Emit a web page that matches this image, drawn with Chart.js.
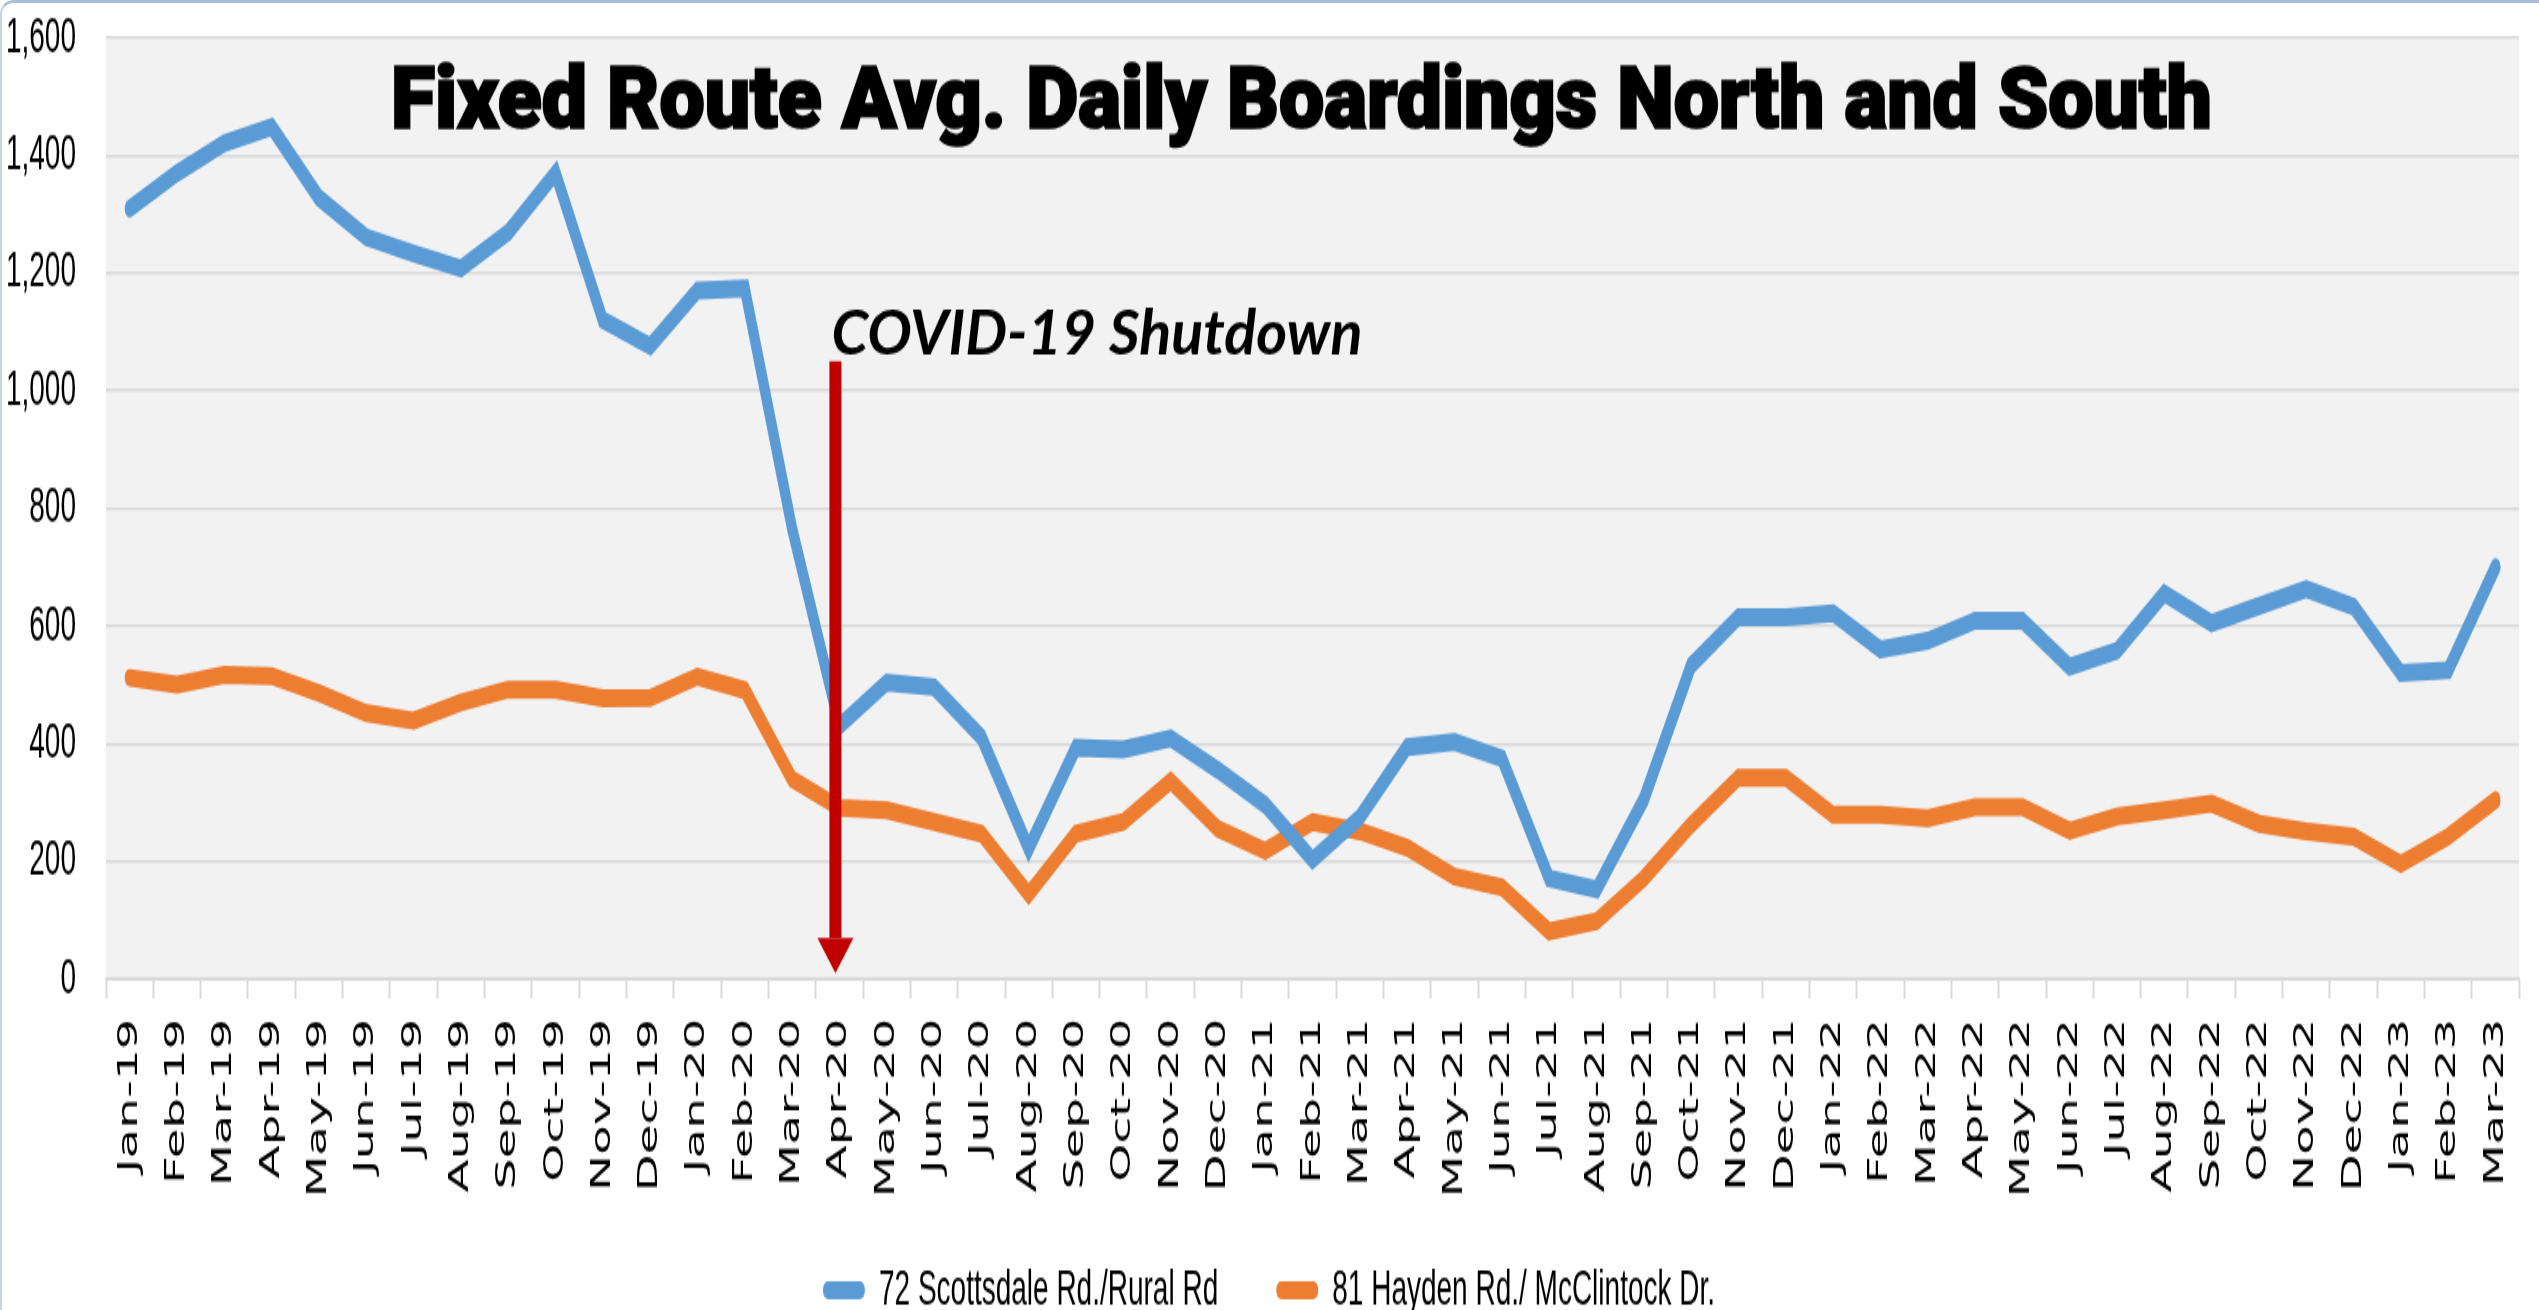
<!DOCTYPE html>
<html>
<head>
<meta charset="utf-8">
<title>Fixed Route Avg. Daily Boardings North and South</title>
<script src="https://cdn.jsdelivr.net/npm/chart.js@4.4.1/dist/chart.umd.min.js"></script>
<style>
  html, body { margin: 0; padding: 0; background: #fff; overflow: hidden; }
  #wrap { position: relative; width: 2539px; height: 1310px; }
  #chart { display: block; }
  #frame {
    position: absolute; left: 0; top: 0; right: 0; bottom: 0;
    border-top: 3px solid #a7bfd8; border-left: 2px solid #c8d5e3;
    border-top-left-radius: 14px; box-sizing: border-box; pointer-events: none;
  }
</style>
</head>
<body>
<div id="wrap">
  <!-- the source picture is a chart stretched vertically, so the canvas is drawn short and stretched by css -->
  <canvas id="chart" width="2539" height="728" style="width:2539px;height:1310px"></canvas>
  <div id="frame"></div>
</div>
<script>
const months = [
    'Jan-19', 'Feb-19', 'Mar-19', 'Apr-19', 'May-19', 'Jun-19', 'Jul-19', 'Aug-19', 'Sep-19', 'Oct-19', 'Nov-19', 'Dec-19',
    'Jan-20', 'Feb-20', 'Mar-20', 'Apr-20', 'May-20', 'Jun-20', 'Jul-20', 'Aug-20', 'Sep-20', 'Oct-20', 'Nov-20', 'Dec-20',
    'Jan-21', 'Feb-21', 'Mar-21', 'Apr-21', 'May-21', 'Jun-21', 'Jul-21', 'Aug-21', 'Sep-21', 'Oct-21', 'Nov-21', 'Dec-21',
    'Jan-22', 'Feb-22', 'Mar-22', 'Apr-22', 'May-22', 'Jun-22', 'Jul-22', 'Aug-22', 'Sep-22', 'Oct-22', 'Nov-22', 'Dec-22',
    'Jan-23', 'Feb-23', 'Mar-23'
];

// 72 Scottsdale Rd./Rural Rd
const scottsdale = [
    1310, 1370, 1421, 1448, 1328, 1261, 1233, 1208, 1269, 1370, 1120, 1076,
    1170, 1174, 766, 430, 504, 496, 411, 222, 393, 390, 409, 355,
    296, 203, 275, 394, 403, 375, 171, 152, 305, 533, 615, 615,
    622, 560, 575, 609, 609, 531, 558, 655, 605, 634, 663, 633,
    520, 525, 700
];

// 81 Hayden Rd./ McClintock Dr.
const hayden = [
    512, 500, 517, 515, 486, 452, 439, 470, 492, 492, 477, 478,
    514, 491, 340, 291, 287, 267, 247, 144, 247, 267, 336, 255,
    218, 267, 251, 223, 174, 156, 81, 98, 171, 262, 342, 342,
    279, 279, 273, 292, 292, 252, 276, 287, 298, 264, 251, 242,
    196, 242, 304
];

const seriesNames = ['72 Scottsdale Rd./Rural Rd', '81 Hayden Rd./ McClintock Dr.'];
const chartTitle = 'Fixed Route Avg. Daily Boardings North and South';
const shutdownText = 'COVID-19 Shutdown';
const shutdownMonth = 'Apr-20';
const arrowFrom = 1050;
const arrowTo = 10;

const canvas = document.getElementById('chart');
const STRETCH = 1310 / canvas.height;

// grey plot area
const plotBackground = {
    id: 'plotBackground',
    beforeDraw(chart) {
        const { ctx, chartArea: a } = chart;
        ctx.save();
        ctx.fillStyle = '#f2f2f2';
        ctx.fillRect(a.left, a.top, a.right - a.left, a.bottom - a.top);
        ctx.restore();
    }
};

// shutdown arrow + label, and the big title
const annotations = {
    id: 'annotations',
    afterDatasetsDraw(chart) {
        const { ctx, scales: { x, y } } = chart;
        const ax = x.getPixelForValue(months.indexOf(shutdownMonth)) - 4;
        const top = y.getPixelForValue(arrowFrom);
        const tip = y.getPixelForValue(arrowTo);
        const headH = 35 / STRETCH;

        ctx.save();
        ctx.fillStyle = '#c00000';
        ctx.fillRect(ax - 6, top, 12, tip - headH - top);
        ctx.beginPath();
        ctx.moveTo(ax - 18, tip - headH);
        ctx.lineTo(ax + 18, tip - headH);
        ctx.lineTo(ax, tip);
        ctx.closePath();
        ctx.fill();

        // this label was not stretched in the source, so undo the css stretch
        ctx.translate(ax - 4, top - 7 / STRETCH);
        ctx.scale(1, 1 / STRETCH);
        ctx.font = 'italic bold 61px Lato, "Open Sans", sans-serif';
        const w = ctx.measureText(shutdownText).width;
        ctx.scale(531 / w, 1);
        ctx.fillStyle = '#000';
        ctx.textBaseline = 'alphabetic';
        ctx.fillText(shutdownText, 0, 0);
        ctx.restore();
    },
    afterDraw(chart) {
        const { ctx } = chart;
        ctx.save();
        ctx.font = '900 49px Roboto, Lato, "DejaVu Sans", sans-serif';
        const w = ctx.measureText(chartTitle).width;
        ctx.translate(391, 71);
        ctx.scale(1821 / w, 1);
        ctx.fillStyle = '#000';
        ctx.strokeStyle = '#000';
        ctx.lineWidth = 1.5;
        ctx.textBaseline = 'alphabetic';
        ctx.fillText(chartTitle, 0, 0);
        ctx.strokeText(chartTitle, 0, 0);  // a touch heavier, like the source's black face
        ctx.restore();
    }
};

new Chart(canvas, {
    type: 'line',
    data: {
        labels: months,
        datasets: [
            {
                label: seriesNames[0],
                data: scottsdale,
                borderColor: '#5b9bd5',
                backgroundColor: '#5b9bd5',
                borderWidth: 10,
                borderCapStyle: 'round',
                pointRadius: 0,
                tension: 0,
            },
            {
                label: seriesNames[1],
                data: hayden,
                borderColor: '#ed7d31',
                backgroundColor: '#ed7d31',
                borderWidth: 10,
                borderCapStyle: 'round',
                pointRadius: 0,
                tension: 0,
            }
        ]
    },
    options: {
        responsive: false,
        animation: false,
        devicePixelRatio: 1,
        layout: {
            padding: { left: 6, right: 7, top: 21, bottom: -13 },
        },
        plugins: {
            tooltip: { enabled: false },
            title: { display: false },
            legend: {
                position: 'bottom',
                labels: {
                    boxWidth: 42,
                    boxHeight: 10,
                    useBorderRadius: true,
                    borderRadius: 5,
                    padding: 58,
                    color: '#000',
                    font: { family: 'Liberation Sans', size: 28 },
                    generateLabels: (c) => Chart.defaults.plugins.legend.labels.generateLabels(c)
                        .map(item => Object.assign(item, { lineWidth: 0 })),
                },
            },
        },
        scales: {
            x: {
                offset: true,
                grid: {
                    offset: true,
                    drawOnChartArea: false,
                    tickLength: 11,
                    tickColor: '#d9d9d9',
                    tickWidth: 2,
                },
                border: { color: '#d9d9d9', width: 2 },
                ticks: {
                    autoSkip: false,
                    minRotation: 90,
                    maxRotation: 90,
                    padding: 11,
                    color: '#000',
                    font: { family: 'DejaVu Sans', size: 27 },
                },
                afterFit: (scale) => {
                    scale.height = 101;
                    // labels run down past the axis box into the legend band; don't clip them
                    scale._computeLabelArea = () => undefined;
                },
            },
            y: {
                min: 0,
                max: 1600,
                ticks: {
                    stepSize: 200,
                    padding: 0,
                    color: '#000',
                    font: { family: 'Liberation Sans', size: 28 },
                },
                grid: {
                    color: '#d9d9d9',
                    lineWidth: 1.5,
                    drawTicks: true,
                    tickLength: 30,
                    tickColor: 'rgba(0,0,0,0)',
                },
                border: { display: false },
                afterFit: (scale) => { scale.width = 100; },
            },
        },
    },
    plugins: [plotBackground, annotations],
});
</script>
</body>
</html>
